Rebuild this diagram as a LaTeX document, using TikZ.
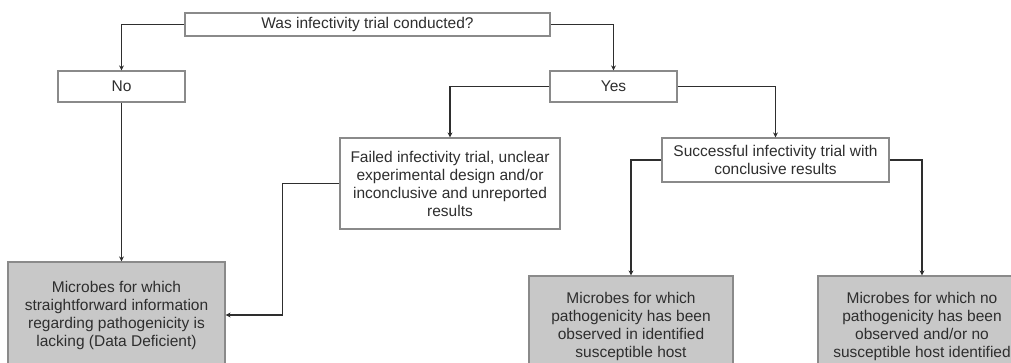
\documentclass[tikz,border=0pt]{standalone}
\usepackage{fontspec}
\setmainfont{Liberation Sans}
\usepackage{tikz}
\usetikzlibrary{positioning,arrows.meta,calc}

\definecolor{boxline}{HTML}{8A8A8A}
\definecolor{boxfill}{HTML}{C8C8C8}
\definecolor{ink}{HTML}{2E2E2E}

\begin{document}
\begin{tikzpicture}[x=1pt,y=-1pt,
  qbox/.style={rectangle,draw=boxline,line width=1.2pt,fill=white,align=center,text=ink,inner sep=2pt,minimum width=#1},
  endbox/.style={rectangle,draw=boxline,line width=1.2pt,fill=boxfill,align=center,text=ink,inner sep=2pt,minimum width=#1},
  flow/.style={-{Stealth[length=5pt,width=5pt]},line width=1.8pt,draw=ink},
  every node/.append style={font=\fontsize{15.5}{18}\selectfont},
]
\useasboundingbox (0,0) rectangle (1011,362);
\clip (0,0) rectangle (1011,362);

% Question - top
\node[qbox=365pt,minimum height=23pt] (q) at (367.5,24.5) {Was infectivity trial conducted?};

% Answers
\node[qbox=127pt,minimum height=31pt] (no) at (121.5,86.5) {No};
\node[qbox=127pt,minimum height=31pt] (yes) at (613.5,86.5) {Yes};
\draw[flow] (q.west) -| (no.north);
\draw[flow] (q.east) -| (yes.north);

% Trial outcomes
\node[qbox=220pt,minimum height=91pt] (failed) at (450,183.5) {Failed infectivity trial, unclear\\experimental design and/or\\inconclusive and unreported\\results};
\node[qbox=227pt,minimum height=44pt] (success) at (775.5,160) {Successful infectivity trial with\\conclusive results};
\draw[flow] (yes.west) -| (failed.north);
\draw[flow] (yes.east) -| (success.north);

% Categories - bottom
\node[endbox=217pt,minimum height=106pt] (dd) at (116.5,315) {Microbes for which\\straightforward information\\regarding pathogenicity is\\lacking (Data Deficient)};
\node[endbox=204pt,minimum height=100pt] (patho) at (631,326) {Microbes for which\\pathogenicity has been\\observed in identified\\susceptible host};
\node[endbox=208pt,minimum height=100pt] (nopatho) at (922,326) {Microbes for which no\\pathogenicity has been\\observed and/or no\\susceptible host identified};
\draw[flow] (no.south) -- (no.south |- dd.north);
\draw[flow] (failed.west) -- ++(-57,0) |- (dd.east);
\draw[flow] (success.west) -| (patho.north);
\draw[flow] (success.east) -| (nopatho.north);
\end{tikzpicture}
\end{document}
